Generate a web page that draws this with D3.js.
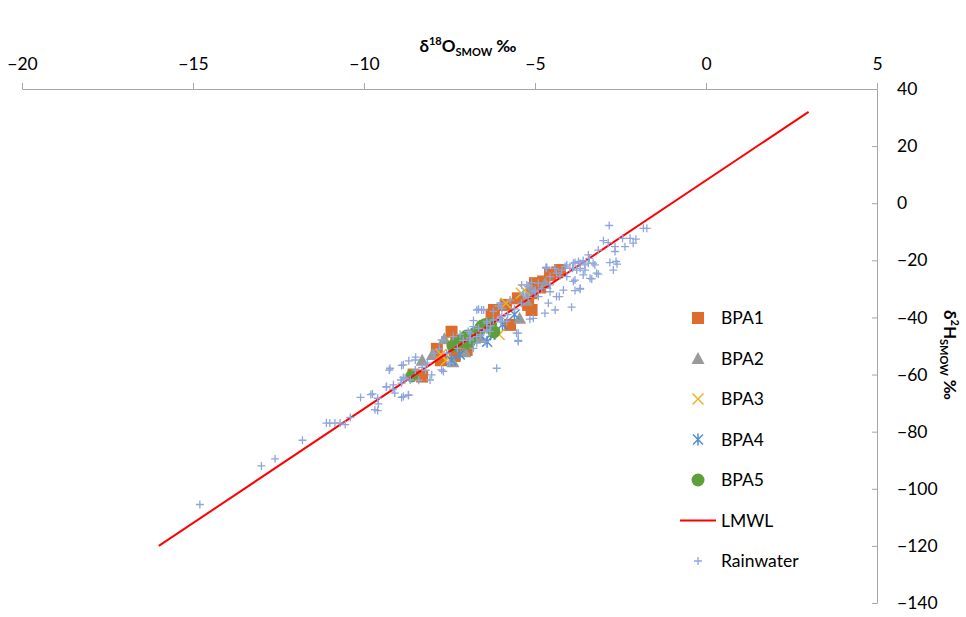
<!DOCTYPE html>
<html>
<head>
<meta charset="utf-8">
<script src="https://cdn.jsdelivr.net/npm/d3@7"></script>
<style>
  body { margin: 0; background: #fff; }
  svg { font-family: Lato, "Open Sans", sans-serif; }
</style>
</head>
<body>
<div id="chart"></div>
<script>
// δ18O, δ2H pairs
const bpa1 = [[-8.55,-60],[-8.3,-60.7],[-7.87,-51],[-7.75,-55],[-7.44,-45],[-7.3,-48],[-7.35,-53.5],[-7.0,-51.4],
  [-6.27,-39],[-6.2,-37.4],[-5.85,-35.6],[-5.73,-42.6],[-5.2,-35.6],[-5.1,-37.4],[-5.1,-31.5],[-5.0,-28],
  [-4.85,-29.5],[-4.76,-27.4],[-4.56,-25.1],[-4.35,-24.2],[-4.27,-23.4],[-5.5,-33.3]]
const bpa2 = [[-8.3,-55],[-8.0,-53],[-7.65,-47.5],[-7.4,-55.5],[-7.05,-52],[-6.6,-47],[-5.45,-40.3],[-5.25,-34],
  [-5.1,-30.5],[-4.7,-28],[-6.8,-46]]
const bpa3 = [[-7.75,-53],[-7.6,-55],[-6.05,-46],[-5.85,-35],[-5.4,-31.5],[-5.3,-30.5]]
const bpa4 = [[-7.45,-55],[-7.2,-53],[-6.4,-48.5],[-6.3,-46],[-5.95,-42.5],[-5.6,-39]]
const bpa5 = [[-8.6,-60.5],[-7.4,-50],[-7.2,-48.5],[-7.0,-46.5],[-6.9,-48],[-6.75,-45.5],[-6.6,-44],[-6.45,-42.5],
  [-6.3,-42.5],[-6.2,-45],[-6.55,-43],[-7.3,-49.5],[-6.95,-49]]
const lmwl = [[-16,-120],[3,32]]
const rainwater = [
  [-14.8,-105.5],[-13.0,-92],[-12.6,-89.5],[-11.8,-83],
  [-11.1,-77],[-11.0,-77],[-10.85,-77],[-10.7,-77],[-10.55,-77.5],[-10.4,-75],
  [-10.1,-68],[-9.8,-67],[-9.6,-68.3],[-9.58,-70.3],[-9.68,-72.3],[-9.6,-72.6],[-9.35,-64.4],[-9.26,-58.4],
  [-9.15,-65.1],[-9.1,-66.5],[-8.9,-68],[-8.7,-67.3],[-8.92,-61.9],[-8.85,-61],[-8.9,-56.8],[-8.69,-55.2],[-8.49,-53.9],
  [-8.9,-63],[-9.75,-66.8],[-8.07,-61.9],[-8.02,-60.1],[-7.68,-58.9],[-8.5,-58.4],[-7.49,-56],[-7.73,-47.9],
  [-7.39,-46.7],[-7.19,-45.9],[-6.95,-44.9],[-6.8,-43.2],[-6.7,-37.4],[-6.56,-37.4],[-6.12,-57.8],[-6.07,-36],
  [-6.9,-47.9],[-6.7,-49],[-6.46,-48.5],[-6.6,-46.1],[-6.41,-42],[-7.58,-52.5],[-7.27,-50.8],
  [-4.66,-22.4],[-4.37,-24.5],[-4.07,-21.6],[-3.83,-20.8],[-3.68,-21],[-3.44,-21],[-3.88,-27.4],[-3.83,-30.6],
  [-3.68,-30.1],[-4.37,-32.7],[-4.61,-35],[-3.93,-36.4],[-4.71,-38.5],[-5.15,-40.6],[-5.49,-45.5],[-5.49,-48.4],
  [-5.39,-28.6],[-5.2,-29.2],[-5.0,-30.4],[-5.34,-32.1],[-6.65,-37.1],[-6.5,-37.4],[-6.02,-35],[-5.97,-36.8],
  [-6.02,-40.3],[-5.83,-41.4],[-6.8,-41.1],[-4.56,-31],[-4.17,-30.4],[-4.9,-32.7],[-3.98,-22.8],[-4.07,-25.7],
  [-5.73,-33.9],[-6.22,-37.9],[-6.41,-44.4],[-6.32,-44.9],[-6.9,-47.2],[-6.7,-46.7],[-6.8,-50.8],
  [-2.83,-7.8],[-1.83,-8.8],[-1.73,-8.8],[-2.05,-12.6],[-2.13,-14],[-2.37,-15.2],[-2.22,-12.3],[-2.44,-12.3],
  [-2.66,-15.2],[-2.66,-16.9],[-3.0,-13.1],[-2.86,-13.8],[-3.15,-16.4],[-2.81,-20.8],[-2.63,-20.4],[-2.6,-21.3],
  [-2.71,-23.4],[-3.25,-21.6],[-3.15,-24.8],[-3.44,-18.1],[-3.41,-19.3],[-3.59,-20.1],[-3.54,-23.4],[-3.34,-26.5],
  [-3.59,-25.1],[-3.88,-21],[-3.73,-20.4],[-3.83,-26.9],[-3.68,-29.8],[-3.9,-22.8],[-4.22,-23.4],[-4.68,-22.6],
  [-4.56,-25.7],[-4.27,-25.5],[-4.29,-32.7],[-4.56,-28.6],
  [-4.41,-37.4],[-5.05,-40.3],[-5.49,-48],[-3.39,-26.3],[-3.2,-24.5],[-3.54,-21.6],[-3.3,-21],[-9.24,-57.8],
  [-8.85,-56.6],[-8.5,-54.9],[-9.34,-64.2],[-9.14,-63.6],[-8.85,-67.7],[-8.7,-67.1],[-8.8,-61.3],[-8.65,-61.9],
  [-7.73,-58.4],[-4.66,-22.8],[-4.42,-22.8],[-4.12,-22.2],[-3.78,-23.4],[-3.68,-22.8],[-5.24,-28.6],[-5.34,-31.5],
  [-6.65,-43.8],[-6.41,-41.4],[-6.22,-40.9],[-5.97,-39.7],[-5.54,-45.5],
  [-7.1,-48],[-6.9,-45.5],[-6.5,-45],[-6.3,-43],[-6.0,-41.5],[-5.8,-39],[-5.6,-37],[-5.4,-35],[-5.2,-33],
  [-5.0,-31],[-4.8,-30],[-4.9,-28],[-5.1,-27.8],[-7.8,-51],[-7.95,-52.5],[-8.15,-56],[-8.3,-57.5],[-8.4,-62],[-8.2,-58.5]
]
const xTicks = [-20, -15, -10, -5, 0, 5]
const yTicks = [40, 20, 0, -20, -40, -60, -80, -100, -120, -140]
const legendNames = ['BPA1', 'BPA2', 'BPA3', 'BPA4', 'BPA5', 'LMWL', 'Rainwater']

const width = 966, height = 617
const axisColor = '#a6a6a6'
const colors = {BPA1: '#dc6d2c', BPA2: '#9a9a9a', BPA3: '#eab526', BPA4: '#4f8fcf', BPA5: '#5f9f3b', LMWL: '#ff0000', Rainwater: '#8ea6dc'}

const svg = d3.select('#chart').append('svg').attr('width', width).attr('height', height)

const x = d3.scaleLinear().domain([-20, 5]).range([22, 877])
const y = d3.scaleLinear().domain([-140, 40]).range([603, 89])

// top axis (crosses at δ2H = 40)
const xAxis = svg.append('g').attr('transform', `translate(0, ${y(40)})`)
  .call(d3.axisTop(x).tickValues(xTicks).tickSizeInner(6).tickSizeOuter(0).tickPadding(13))
xAxis.selectAll('path, line').attr('stroke', axisColor)
xAxis.selectAll('text').attr('font-size', 17.5).attr('fill', '#000').attr('font-family', 'Lato, sans-serif')

// right axis (crosses at δ18O = 5)
const yAxis = svg.append('g').attr('transform', `translate(${x(5)}, 0)`)
  .call(d3.axisRight(y).tickValues(yTicks).tickSizeInner(-5).tickSizeOuter(0).tickPadding(20))
yAxis.selectAll('path, line').attr('stroke', axisColor)
yAxis.selectAll('text').attr('font-size', 17.5).attr('fill', '#000').attr('font-family', 'Lato, sans-serif')

// axis titles
const xt = svg.append('text').attr('x', 468).attr('y', 52).attr('text-anchor', 'middle')
  .attr('font-weight', 'bold').attr('font-size', 17)
xt.append('tspan').text('δ')
xt.append('tspan').text('18').attr('font-size', 11).attr('dy', -7)
xt.append('tspan').text('O').attr('dy', 7)
xt.append('tspan').text('SMOW').attr('font-size', 11).attr('dy', 4)
xt.append('tspan').text(' ‰').attr('dy', -4)

const yt = svg.append('text').attr('transform', `translate(944, 355) rotate(90)`).attr('text-anchor', 'middle')
  .attr('font-weight', 'bold').attr('font-size', 17)
yt.append('tspan').text('δ')
yt.append('tspan').text('2').attr('font-size', 11).attr('dy', -7)
yt.append('tspan').text('H').attr('dy', 7)
yt.append('tspan').text('SMOW').attr('font-size', 11).attr('dy', 4)
yt.append('tspan').text(' ‰').attr('dy', -4)

// marker shapes
function drawMarker(g, name, cx, cy) {
  const c = colors[name]
  if (name === 'BPA1') {
    g.append('rect').attr('x', cx - 6).attr('y', cy - 6).attr('width', 12).attr('height', 12).attr('fill', c)
  } else if (name === 'BPA2') {
    g.append('path').attr('d', `M${cx},${cy - 6.5}L${cx + 6.5},${cy + 5.5}L${cx - 6.5},${cy + 5.5}Z`).attr('fill', c)
  } else if (name === 'BPA3') {
    g.append('path').attr('d', `M${cx - 5.5},${cy - 5.5}L${cx + 5.5},${cy + 5.5}M${cx - 5.5},${cy + 5.5}L${cx + 5.5},${cy - 5.5}`)
      .attr('stroke', c).attr('stroke-width', 1.5)
  } else if (name === 'BPA4') {
    g.append('path').attr('d', `M${cx - 5},${cy - 5}L${cx + 5},${cy + 5}M${cx - 5},${cy + 5}L${cx + 5},${cy - 5}M${cx},${cy - 6}L${cx},${cy + 6}`)
      .attr('stroke', c).attr('stroke-width', 1.5)
  } else if (name === 'BPA5') {
    g.append('circle').attr('cx', cx).attr('cy', cy).attr('r', 6.5).attr('fill', c)
  } else if (name === 'Rainwater') {
    g.append('path').attr('d', `M${cx - 4},${cy}L${cx + 4},${cy}M${cx},${cy - 4}L${cx},${cy + 4}`)
      .attr('stroke', c).attr('stroke-width', 1.3)
  }
}

const plot = svg.append('g')
const series = [['BPA1', bpa1], ['BPA2', bpa2], ['BPA3', bpa3], ['BPA4', bpa4], ['BPA5', bpa5]]
series.forEach(([name, data]) => {
  const g = plot.append('g').attr('class', name)
  data.forEach(d => drawMarker(g, name, x(d[0]), y(d[1])))
})

plot.append('path')
  .datum(lmwl)
  .attr('d', d3.line().x(d => x(d[0])).y(d => y(d[1])))
  .attr('stroke', colors.LMWL).attr('stroke-width', 2).attr('fill', 'none')

const rg = plot.append('g').attr('class', 'rain')
rainwater.forEach(d => drawMarker(rg, 'Rainwater', x(d[0]), y(d[1])))

// legend
const legend = svg.append('g')
legendNames.forEach((name, i) => {
  const ly = 318 + i * 40.5
  if (name === 'LMWL') {
    legend.append('line').attr('x1', 680).attr('x2', 716).attr('y1', ly).attr('y2', ly)
      .attr('stroke', colors.LMWL).attr('stroke-width', 2)
  } else {
    drawMarker(legend, name, 698, ly)
  }
  legend.append('text').attr('x', 721).attr('y', ly).attr('dy', '0.35em')
    .attr('font-size', 17.5).text(name)
})
</script>
</body>
</html>
